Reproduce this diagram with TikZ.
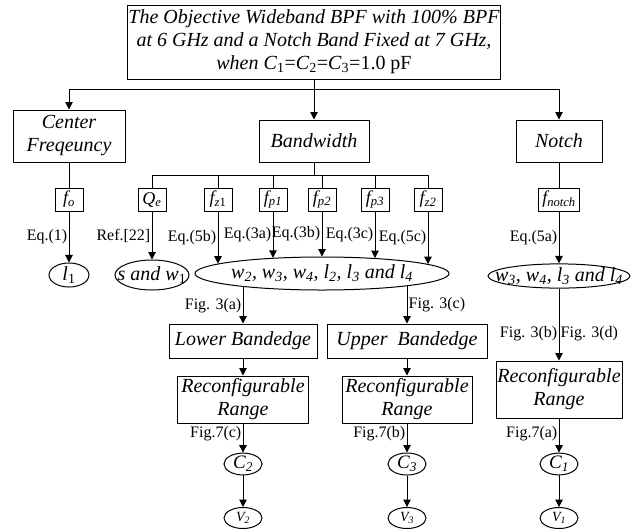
\documentclass[tikz,border=0pt]{standalone}
\usepackage{fontspec}
\setmainfont{Liberation Serif}
\usetikzlibrary{shapes.geometric,arrows.meta,calc}
\newcommand{\ovaltext}[1]{\makebox[0pt]{#1}}
\tikzset{
  box/.style={draw, align=center, inner sep=1pt, font=\fontsize{20}{23}\selectfont\itshape},
  sbox/.style={draw, inner sep=1pt, minimum height=23, minimum width=28, font=\fontsize{18}{20}\selectfont\itshape},
  oval/.style={ellipse, draw, inner sep=0pt, font=\fontsize{20}{22}\selectfont\itshape},
  arr/.style={-{Triangle[length=7.5pt,width=7.5pt]}},
  lbl/.style={font=\fontsize{16}{18}\selectfont, inner sep=1.2pt},
}
\begin{document}
\begin{tikzpicture}[x=1pt, y=-1pt, line width=1pt]
  \useasboundingbox (0,0) rectangle (639,531);
  % top level
  \node[box, minimum width=371, minimum height=74] (top) at (314,42)
    {The Objective Wideband BPF with 100\% BPF\\
     at 6 GHz and a Notch Band Fixed at 7 GHz,\\
     when C\textup{\textsubscript{1}=}C\textup{\textsubscript{2}=}C\textup{\textsubscript{3}=1.0 pF}};
  \node[box, minimum width=112, minimum height=52] (cf) at (69,136) {Center\\Freqeuncy};
  \node[box, minimum width=110, minimum height=42] (bw) at (314,141) {Bandwidth};
  \node[box, minimum width=86, minimum height=42] (notch) at (559,141) {Notch};
  \coordinate (tj) at (314,89);
  \coordinate (bj) at (314,175);
  % parameters
  \node[sbox] (fo) at (69,199.5) {f\textsubscript{o}};
  \node[sbox] (qe) at (152,199.5) {Q\textsubscript{e}};
  \node[sbox] (fz1) at (218,199.5) {f\textsubscript{z\textup{1}}};
  \node[sbox] (fp1) at (273,199.5) {f\textsubscript{p1}};
  \node[sbox] (fp2) at (322,199.5) {f\textsubscript{p2}};
  \node[sbox] (fp3) at (375,199.5) {f\textsubscript{p3}};
  \node[sbox] (fz2) at (428,199.5) {f\textsubscript{z2}};
  \node[sbox, minimum width=41] (fn) at (559,199.5) {f\textsubscript{notch}};
  % dimensions
  \node[oval, minimum width=40, minimum height=21] (l1) at (69,275) {\ovaltext{l\textsubscript{\textup{1}}}};
  \node[oval, minimum width=74, minimum height=30] (sw1) at (152,275) {\ovaltext{s and w\textsubscript{\textup{1}}}};
  \node[oval, minimum width=254, minimum height=33] (wl) at (322,273.5)
    {\ovaltext{w\textsubscript{2}, w\textsubscript{3}, w\textsubscript{4}, l\textsubscript{2}, l\textsubscript{3} and l\textsubscript{4}}};
  \node[oval, minimum width=142, minimum height=24] (wn) at (559,276)
    {\ovaltext{w\textsubscript{3}, w\textsubscript{4}, l\textsubscript{3} and l\textsubscript{4}}};
  % band edges
  \node[box, minimum width=148, minimum height=34] (lb) at (243,341) {Lower Bandedge};
  \node[box, minimum width=160, minimum height=34] (ub) at (407,341) {Upper\ \ Bandedge};
  \node[box, minimum width=131, minimum height=47] (lr) at (243,399.5) {Reconfigurable\\Range};
  \node[box, minimum width=130, minimum height=47] (ur) at (407,399.5) {Reconfigurable\\Range};
  \node[box, minimum width=126, minimum height=57] (rr) at (559,389.5) {Reconfigurable\\Range};
  % capacitors and voltages
  \node[oval, minimum width=38, minimum height=21, font=\fontsize{19}{21}\selectfont\itshape] (c2) at (243,464) {\ovaltext{C\textsubscript{2}}};
  \node[oval, minimum width=38, minimum height=21, font=\fontsize{19}{21}\selectfont\itshape] (c3) at (407,464) {\ovaltext{C\textsubscript{3}}};
  \node[oval, minimum width=38, minimum height=21, font=\fontsize{19}{21}\selectfont\itshape] (c1) at (559,464) {\ovaltext{C\textsubscript{1}}};
  \node[oval, minimum width=38, minimum height=21, font=\fontsize{14}{16}\selectfont\itshape] (v2) at (243,518) {\ovaltext{V\textsubscript{2}}};
  \node[oval, minimum width=38, minimum height=21, font=\fontsize{14}{16}\selectfont\itshape] (v3) at (407,518) {\ovaltext{V\textsubscript{3}}};
  \node[oval, minimum width=38, minimum height=21, font=\fontsize{14}{16}\selectfont\itshape] (v1) at (559,518) {\ovaltext{V\textsubscript{1}}};
  % connectors
  \draw[arr] (top.south) -- (bw.north);
  \draw[arr] (tj) -| (cf.north);
  \draw[arr] (tj) -| (notch.north);
  \draw (bw.south) -- (bj);
  \draw (bj) -| (qe.north);
  \draw (bj) -| (fz1.north);
  \draw (bj) -| (fp1.north);
  \draw (bj) -| (fp2.north);
  \draw (bj) -| (fp3.north);
  \draw (bj) -| (fz2.north);
  \draw (cf.south) -- (fo.north);
  \draw (notch.south) -- (fn.north);
  \draw[arr] (fo.south) -- node[lbl, left] {Eq.(1)} (l1.north);
  \draw[arr] (qe.south) -- node[lbl, left] {Ref.[22]} (sw1.north);
  \draw[arr] (fn.south) -- node[lbl, left] {Eq.(5a)} (wn.north);
  \foreach \s/\e in {fz1/5b, fp1/3a, fp2/3b, fp3/3c, fz2/5c} {
    \draw[arr] let \p1=(\s.south), \p2=(wl.center), \p3=(wl.east), \p4=(wl.north) in
      (\p1) -- node[lbl, left] {Eq.(\e)}
      (\x1, {\y2+(\y4-\y2)*sqrt(1-((\x1-\x2)/(\x3-\x2))^2)});
  }
  \draw[arr] let \p1=(lb.north), \p2=(wl.center), \p3=(wl.east), \p4=(wl.north) in
    (\x1, {\y2-(\y4-\y2)*sqrt(1-((\x1-\x2)/(\x3-\x2))^2)}) -- node[lbl, left] {Fig. 3(a)} (\p1);
  \draw[arr] let \p1=(ub.north), \p2=(wl.center), \p3=(wl.east), \p4=(wl.north) in
    (\x1, {\y2-(\y4-\y2)*sqrt(1-((\x1-\x2)/(\x3-\x2))^2)}) -- node[lbl, right] {Fig. 3(c)} (\p1);
  \draw[arr] (wn.south) -- node[lbl, left, pos=0.62] {Fig. 3(b)} node[lbl, right, pos=0.62] {Fig. 3(d)} (rr.north);
  \draw[arr] (lb.south) -- (lr.north);
  \draw[arr] (ub.south) -- (ur.north);
  \draw[arr] (lr.south) -- node[lbl, left, pos=0.35] {Fig.7(c)} (c2.north);
  \draw[arr] (ur.south) -- node[lbl, left, pos=0.35] {Fig.7(b)} (c3.north);
  \draw[arr] (rr.south) -- node[lbl, left, pos=0.43] {Fig.7(a)} (c1.north);
  \draw[arr] (c2.south) -- (v2.north);
  \draw[arr] (c3.south) -- (v3.north);
  \draw[arr] (c1.south) -- (v1.north);
\end{tikzpicture}
\end{document}
